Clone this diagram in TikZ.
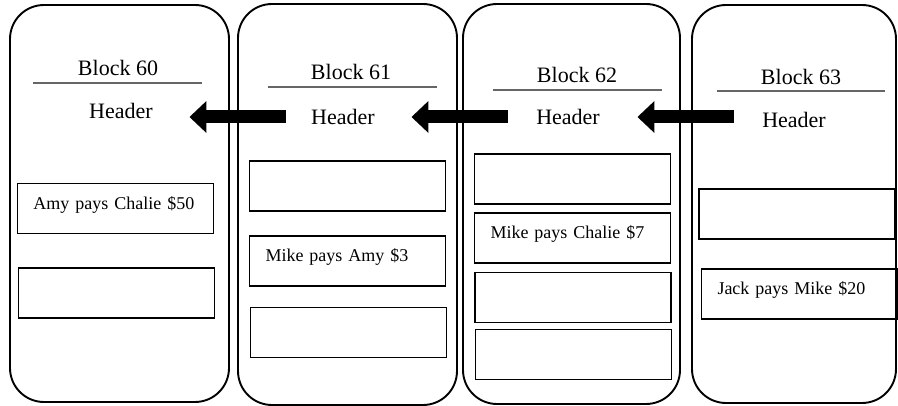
\documentclass[tikz,border=0pt]{standalone}
\usepackage{fontspec}
\setmainfont{Liberation Serif}
\usetikzlibrary{arrows.meta}

\tikzset{
	blockframe/.style = {draw, line width=1.9pt, rounded corners=34pt},
	title/.style = {font=\fontsize{22}{25}\selectfont, text=black, inner sep=2pt},
	rule/.style = {draw=black!60, line width=1.3pt},
	txbox/.style = {draw, line width=1.9pt, minimum height=50pt, text width=164pt,
		inner xsep=16pt, align=left, text height=13pt, text depth=11pt,
		font=\fontsize{18}{20}\selectfont, text=black},
	bigarrow/.style = {line width=13pt, -{Triangle[length=17pt, width=31pt]}},
}

\begin{document}
\begin{tikzpicture}[x=1pt, y=-1pt]
	\useasboundingbox (0,0) rectangle (898,406);

	% the four blocks
	\draw[blockframe] (10,5) rectangle (229,402);
	\draw[blockframe] (238,4) rectangle (457,405);
	\draw[blockframe] (463,4) rectangle (680,404);
	\draw[blockframe] (692,5) rectangle (896,403);

	% block names with the rule underneath
	\foreach \n/\x/\y/\l/\r/\ly in {60/118/68/33/202/83, 61/351/72/268/437/87,
			62/577/75/493/662/90, 63/801/77/717/885/91} {
		\node[title] (b\n) at (\x,\y) {Block \n};
		\draw[rule] (\l,\ly) -- (\r,\ly);
	}

	% headers
	\node[title] (h60) at (121,111) {Header};
	\node[title] (h61) at (343,117) {Header};
	\node[title] (h62) at (568,117) {Header};
	\node[title] (h63) at (794,120) {Header};

	% each header points back to the previous one
	\draw[bigarrow, shorten <=23.5pt, shorten >=34.5pt] (h61.west) -- (h61.west -| h60.east);
	\draw[bigarrow, shorten <=26.5pt, shorten >=34.5pt] (h62.west) -- (h62.west -| h61.east);
	\draw[bigarrow, shorten <=26.5pt, shorten >=35.5pt] (h63.west |- h62) -- (h62.east);

	% transactions, block 60
	\node[txbox] (t60a) at (115.5,208.5) {Amy pays Chalie \$50};
	\node[txbox] (t60b) at (116.5,293) {};

	% block 61
	\node[txbox] (t61a) at (347.5,186) {};
	\node[txbox] (t61b) at (347.5,261) {Mike pays Amy \$3};
	\node[txbox] (t61c) at (348.5,332.5) {};

	% block 62
	\node[txbox] (t62a) at (572.5,179) {};
	\node[txbox] (t62b) at (572.5,238) {Mike pays Chalie \$7};
	\node[txbox] (t62c) at (573,297.5) {};
	\node[txbox] (t62d) at (573.5,354.5) {};

	% block 63
	\node[txbox] (t63a) at (797,214) {};
	\node[txbox] (t63b) at (799.5,294) {Jack pays Mike \$20};
\end{tikzpicture}
\end{document}
